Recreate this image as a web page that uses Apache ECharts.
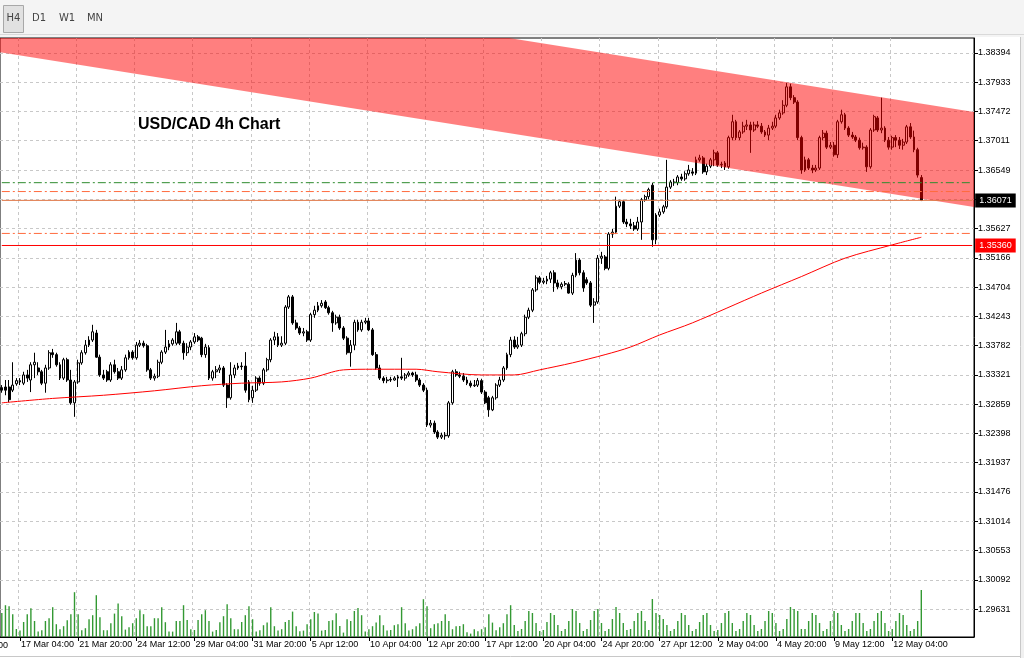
<!DOCTYPE html>
<html><head><meta charset="utf-8">
<script src="https://cdn.jsdelivr.net/npm/echarts@6/dist/echarts.min.js"></script>
<style>html,body{margin:0;padding:0;background:#fff}#c{width:1024px;height:658px}</style>
</head><body><div id="c"></div>
<script>
// ---------- DATA ----------
const tickLabels = ['17 Mar 04:00','21 Mar 20:00','24 Mar 12:00','29 Mar 04:00','31 Mar 20:00','5 Apr 12:00','10 Apr 04:00','12 Apr 20:00','17 Apr 12:00','20 Apr 04:00','24 Apr 20:00','27 Apr 12:00','2 May 04:00','4 May 20:00','9 May 12:00','12 May 04:00'];
const priceTicks = ['1.29631','1.30092','1.30553','1.31014','1.31476','1.31937','1.32398','1.32859','1.33321','1.33782','1.34243','1.34704','1.35166','1.35627','1.36088','1.36549','1.37011','1.37472','1.37933','1.38394'];

const opens = [1.3312,1.3313,1.3313,1.3308,1.3318,1.3323,1.3319,1.3332,1.3324,1.3348,
1.3343,1.3337,1.3319,1.3343,1.3367,1.3364,1.3348,1.3327,1.3356,1.3324,
1.3288,1.3321,1.3351,1.3367,1.3379,1.3387,1.3398,1.3360,1.3332,1.3337,
1.3324,1.3348,1.3337,1.3327,1.3340,1.3359,1.3368,1.3359,1.3379,1.3382,
1.3378,1.3340,1.3327,1.3330,1.3352,1.3368,1.3376,1.3381,1.3382,1.3400,
1.3382,1.3367,1.3376,1.3384,1.3392,1.3390,1.3364,1.3375,1.3327,1.3337,
1.3340,1.3343,1.3316,1.3296,1.3332,1.3343,1.3346,1.3346,1.3321,1.3296,
1.3308,1.3327,1.3319,1.3340,1.3356,1.3387,1.3392,1.3379,1.3382,1.3439,
1.3455,1.3414,1.3406,1.3398,1.3400,1.3387,1.3427,1.3434,1.3441,1.3447,
1.3438,1.3430,1.3414,1.3423,1.3406,1.3390,1.3367,1.3379,1.3415,1.3403,
1.3415,1.3417,1.3403,1.3364,1.3343,1.3327,1.3323,1.3324,1.3324,1.3327,
1.3329,1.3327,1.3332,1.3335,1.3332,1.3324,1.3316,1.3308,1.3253,1.3256,
1.3242,1.3234,1.3237,1.3236,1.3288,1.3337,1.3332,1.3330,1.3324,1.3319,
1.3315,1.3316,1.3323,1.3305,1.3296,1.3277,1.3296,1.3316,1.3324,1.3343,
1.3364,1.3387,1.3376,1.3379,1.3397,1.3423,1.3434,1.3466,1.3485,1.3478,
1.3480,1.3483,1.3493,1.3477,1.3471,1.3475,1.3475,1.3461,1.3489,1.3513,
1.3493,1.3482,1.3477,1.3442,1.3447,1.3516,1.3518,1.3500,1.3554,1.3557,
1.3598,1.3605,1.3573,1.3570,1.3567,1.3562,1.3573,1.3608,1.3613,1.3631,
1.3545,1.3584,1.3589,1.3597,1.3628,1.3636,1.3635,1.3644,1.3641,1.3649,
1.3652,1.3650,1.3671,1.3674,1.3652,1.3661,1.3671,1.3682,1.3663,1.3666,
1.3660,1.3706,1.3731,1.3706,1.3715,1.3724,1.3726,1.3718,1.3726,1.3724,
1.3715,1.3710,1.3721,1.3724,1.3737,1.3745,1.3757,1.3786,1.3769,1.3762,
1.3706,1.3655,1.3671,1.3658,1.3655,1.3658,1.3706,1.3713,1.3691,1.3694,
1.3679,1.3731,1.3742,1.3721,1.3710,1.3707,1.3702,1.3690,1.3691,1.3660,
1.3718,1.3737,1.3718,1.3721,1.3702,1.3691,1.3706,1.3702,1.3694,1.3699,
1.3723,1.3707,1.3687,1.3643];

const closes = [1.3308,1.3308,1.3293,1.3316,1.3323,1.3321,1.3332,1.3327,1.3348,1.3352,
1.3337,1.3319,1.3343,1.3367,1.3364,1.3348,1.3327,1.3356,1.3324,1.3288,
1.3321,1.3351,1.3367,1.3379,1.3387,1.3400,1.3360,1.3332,1.3327,1.3324,
1.3348,1.3337,1.3327,1.3340,1.3359,1.3368,1.3359,1.3379,1.3382,1.3378,
1.3340,1.3327,1.3330,1.3352,1.3368,1.3376,1.3381,1.3387,1.3400,1.3382,
1.3367,1.3376,1.3384,1.3392,1.3387,1.3364,1.3376,1.3327,1.3337,1.3340,
1.3343,1.3316,1.3296,1.3332,1.3343,1.3346,1.3345,1.3308,1.3293,1.3308,
1.3327,1.3319,1.3340,1.3356,1.3387,1.3392,1.3379,1.3382,1.3439,1.3455,
1.3414,1.3406,1.3398,1.3400,1.3387,1.3427,1.3434,1.3441,1.3445,1.3438,
1.3430,1.3414,1.3423,1.3406,1.3390,1.3367,1.3379,1.3415,1.3403,1.3415,
1.3417,1.3403,1.3364,1.3343,1.3327,1.3323,1.3324,1.3325,1.3327,1.3329,
1.3327,1.3332,1.3335,1.3332,1.3324,1.3316,1.3308,1.3253,1.3256,1.3242,
1.3234,1.3237,1.3236,1.3288,1.3337,1.3332,1.3330,1.3324,1.3319,1.3315,
1.3316,1.3323,1.3305,1.3288,1.3277,1.3296,1.3316,1.3324,1.3343,1.3364,
1.3387,1.3376,1.3379,1.3397,1.3423,1.3434,1.3466,1.3485,1.3478,1.3480,
1.3483,1.3493,1.3477,1.3471,1.3475,1.3476,1.3461,1.3489,1.3513,1.3493,
1.3469,1.3477,1.3442,1.3447,1.3516,1.3519,1.3500,1.3554,1.3557,1.3598,
1.3605,1.3573,1.3570,1.3567,1.3562,1.3573,1.3608,1.3613,1.3624,1.3545,
1.3584,1.3589,1.3597,1.3628,1.3636,1.3635,1.3644,1.3641,1.3649,1.3655,
1.3650,1.3671,1.3674,1.3652,1.3661,1.3671,1.3682,1.3663,1.3664,1.3660,
1.3706,1.3731,1.3706,1.3715,1.3724,1.3726,1.3718,1.3726,1.3724,1.3715,
1.3710,1.3721,1.3724,1.3737,1.3745,1.3757,1.3786,1.3769,1.3762,1.3706,
1.3655,1.3671,1.3658,1.3655,1.3658,1.3706,1.3713,1.3691,1.3694,1.3679,
1.3731,1.3742,1.3721,1.3710,1.3707,1.3702,1.3690,1.3691,1.3660,1.3718,
1.3739,1.3718,1.3721,1.3702,1.3691,1.3706,1.3702,1.3694,1.3699,1.3723,
1.3707,1.3687,1.3647,1.36071];

const highs = [1.3316,1.3324,1.3324,1.3352,1.3327,1.3327,1.3337,1.3340,1.3352,1.3367,
1.3352,1.3340,1.3348,1.3371,1.3373,1.3367,1.3352,1.3359,1.3359,1.3340,
1.3324,1.3356,1.3371,1.3387,1.3393,1.3411,1.3403,1.3364,1.3340,1.3340,
1.3352,1.3356,1.3343,1.3346,1.3364,1.3371,1.3371,1.3384,1.3387,1.3386,
1.3381,1.3343,1.3334,1.3356,1.3371,1.3403,1.3387,1.3390,1.3414,1.3403,
1.3386,1.3382,1.3387,1.3398,1.3395,1.3392,1.3381,1.3379,1.3340,1.3346,
1.3348,1.3346,1.3319,1.3352,1.3348,1.3351,1.3352,1.3368,1.3324,1.3315,
1.3330,1.3330,1.3343,1.3359,1.3390,1.3400,1.3398,1.3393,1.3442,1.3458,
1.3458,1.3419,1.3409,1.3406,1.3403,1.3430,1.3441,1.3447,1.3450,1.3450,
1.3441,1.3433,1.3427,1.3427,1.3409,1.3393,1.3387,1.3419,1.3419,1.3419,
1.3422,1.3422,1.3406,1.3368,1.3348,1.3330,1.3329,1.3329,1.3330,1.3332,
1.3359,1.3335,1.3338,1.3337,1.3337,1.3327,1.3319,1.3312,1.3261,1.3260,
1.3245,1.3241,1.3242,1.3291,1.3340,1.3341,1.3337,1.3335,1.3329,1.3323,
1.3324,1.3327,1.3326,1.3308,1.3299,1.3299,1.3319,1.3329,1.3346,1.3367,
1.3392,1.3393,1.3392,1.3400,1.3427,1.3438,1.3469,1.3489,1.3488,1.3485,
1.3488,1.3496,1.3497,1.3482,1.3478,1.3480,1.3478,1.3493,1.3524,1.3516,
1.3497,1.3486,1.3480,1.3453,1.3521,1.3526,1.3521,1.3557,1.3562,1.3613,
1.3608,1.3608,1.3578,1.3578,1.3573,1.3581,1.3611,1.3616,1.3627,1.3635,
1.3587,1.3594,1.3600,1.3671,1.3639,1.3641,1.3647,1.3649,1.3653,1.3663,
1.3658,1.3676,1.3679,1.3677,1.3665,1.3674,1.3687,1.3685,1.3668,1.3669,
1.3709,1.3742,1.3734,1.3718,1.3731,1.3734,1.3731,1.3731,1.3732,1.3729,
1.3718,1.3726,1.3731,1.3742,1.3750,1.3765,1.3792,1.3791,1.3773,1.3765,
1.3709,1.3676,1.3674,1.3663,1.3663,1.3709,1.3718,1.3717,1.3699,1.3699,
1.3734,1.3750,1.3745,1.3724,1.3715,1.3710,1.3706,1.3698,1.3694,1.3721,
1.3742,1.3740,1.3769,1.3724,1.3707,1.3709,1.3710,1.3707,1.3704,1.3726,
1.3729,1.3717,1.3690,1.3647];

const lows = [1.3304,1.3300,1.3289,1.3305,1.3315,1.3316,1.3316,1.3321,1.3305,1.3327,
1.3332,1.3316,1.3304,1.3340,1.3359,1.3345,1.3324,1.3324,1.3321,1.3285,
1.3266,1.3318,1.3348,1.3364,1.3376,1.3384,1.3359,1.3329,1.3324,1.3321,
1.3321,1.3334,1.3324,1.3324,1.3337,1.3356,1.3356,1.3356,1.3376,1.3375,
1.3337,1.3324,1.3323,1.3327,1.3349,1.3365,1.3371,1.3378,1.3379,1.3379,
1.3356,1.3362,1.3371,1.3381,1.3384,1.3360,1.3359,1.3324,1.3323,1.3327,
1.3335,1.3313,1.3280,1.3293,1.3327,1.3340,1.3340,1.3304,1.3289,1.3288,
1.3305,1.3315,1.3316,1.3337,1.3352,1.3379,1.3376,1.3376,1.3379,1.3436,
1.3411,1.3403,1.3395,1.3393,1.3384,1.3384,1.3422,1.3431,1.3438,1.3436,
1.3427,1.3400,1.3411,1.3403,1.3387,1.3364,1.3345,1.3371,1.3400,1.3400,
1.3412,1.3401,1.3362,1.3340,1.3324,1.3319,1.3319,1.3321,1.3323,1.3313,
1.3324,1.3323,1.3329,1.3329,1.3321,1.3313,1.3305,1.3250,1.3249,1.3239,
1.3231,1.3231,1.3230,1.3233,1.3285,1.3329,1.3327,1.3321,1.3316,1.3312,
1.3313,1.3313,1.3302,1.3286,1.3266,1.3275,1.3293,1.3313,1.3321,1.3340,
1.3360,1.3373,1.3373,1.3376,1.3393,1.3420,1.3431,1.3463,1.3475,1.3475,
1.3475,1.3477,1.3463,1.3467,1.3467,1.3472,1.3460,1.3458,1.3486,1.3489,
1.3463,1.3474,1.3439,1.3414,1.3444,1.3507,1.3497,1.3497,1.3548,1.3554,
1.3595,1.3570,1.3565,1.3562,1.3559,1.3559,1.3545,1.3605,1.3609,1.3534,
1.3538,1.3581,1.3586,1.3594,1.3625,1.3630,1.3631,1.3638,1.3638,1.3646,
1.3646,1.3647,1.3668,1.3649,1.3647,1.3658,1.3661,1.3660,1.3658,1.3655,
1.3657,1.3702,1.3702,1.3702,1.3712,1.3718,1.3682,1.3715,1.3721,1.3712,
1.3707,1.3702,1.3718,1.3721,1.3734,1.3742,1.3754,1.3765,1.3759,1.3702,
1.3649,1.3652,1.3655,1.3650,1.3652,1.3655,1.3702,1.3688,1.3688,1.3676,
1.3674,1.3728,1.3718,1.3707,1.3704,1.3699,1.3687,1.3687,1.3652,1.3657,
1.3715,1.3715,1.3713,1.3699,1.3687,1.3687,1.3691,1.3688,1.3687,1.3696,
1.3704,1.3683,1.3643,1.3606];

// tick volume, thousands
const volumes = [12.0,15.9,15.4,11.4,4.0,3.2,7.5,11.4,14.4,8.0,2.7,
3.4,8.0,9.4,14.9,6.4,3.9,5.4,8.4,11.4,22.4,
11.4,3.4,4.4,8.9,10.9,20.9,9.9,3.4,3.4,6.9,
11.7,16.7,10.4,3.7,4.9,6.9,9.4,13.4,11.4,5.4,
5.4,9.4,9.4,14.9,7.4,2.7,2.7,8.0,8.0,15.9,
8.5,3.9,3.5,8.5,11.4,13.4,8.0,2.7,3.5,7.4,
10.4,16.4,9.4,3.9,3.9,7.5,10.9,15.4,8.9,2.7,
3.4,5.9,7.2,14.9,5.4,3.2,3.9,7.5,8.5,12.7,
5.4,2.9,3.2,6.4,8.9,12.5,11.7,3.2,3.5,8.0,
8.4,11.9,5.5,2.2,8.9,8.0,13.0,14.5,10.9,2.7,
3.9,5.4,7.2,10.9,5.9,3.2,3.5,5.9,6.4,14.9,
6.9,3.2,3.9,5.4,6.9,18.9,15.4,4.4,6.4,6.9,
8.0,11.4,8.0,3.9,5.4,5.5,6.4,2.4,1.7,3.9,
2.9,3.9,4.9,11.4,7.2,3.4,4.9,6.9,11.4,15.9,
6.0,3.0,4.0,8.0,13.0,12.0, 7.0,3.0,3.5,7.5,12.0,11.0,
6.0,3.0,4.0,8.0,14.0,13.0, 7.0,3.0,4.0,8.5,13.0,14.0,
7.0,3.0,4.0,9.0,15.0,12.0, 7.0,3.5,4.0,8.0,12.0,13.0,
8.0,3.5,19.0,12.0,11.0,9.0, 6.0,3.0,4.0,8.0,12.0,11.0,
6.0,3.0,4.0,7.5,11.0,12.0, 6.0,3.0,3.5,7.0,12.0,13.0,
7.0,3.0,4.0,8.0,12.0,11.0, 6.0,3.0,4.0,8.0,13.0,12.0,
7.0,3.0,4.0,9.0,15.0,14.0, 13.0,4.0,4.0,8.0,12.0,11.0,
7.0,3.0,4.0,8.0,13.0,12.0, 6.0,3.0,4.0,8.0,12.0,12.0,
7.0,3.0,4.0,8.0,12.0,13.0, 7.0,3.0,4.0,8.0,12.0,11.0,
6.0,3.0,4.0,8.0,23.5];

// moving average (sampled points: bar index -> value)
const maIndex = [0,14,28,42,55,66,77,85,94,102,114,120,132,141,148,157,166,173,181,190,209,220,232,245,253];
const maValue = [1.3288,1.3295,1.3300,1.3307,1.3315,1.3319,1.3321,1.3327,1.3340,1.3341,1.3341,1.3337,1.3332,1.3332,1.3340,1.3351,1.3364,1.3376,1.3395,1.3414,1.3461,1.3487,1.3516,1.3537,1.3549];

// red channel (bar index, upper, lower)
const bandIndex = [0, 267];
const bandTop = [1.3990, 1.3747];
const bandBottom = [1.3840, 1.3597];

// horizontal levels
const levelValues = [1.3635, 1.3621, 1.36071, 1.3555, 1.35360];
const levelColors = ['#2e8b2e', '#ff6a3d', '#e07848', '#ff6a3d', '#ff0000'];
const levelDash = [true, true, false, true, false];
const levelTag = [null, null, '#000000', null, '#ff0000'];
const levelSpan = [0, 267];

// ---------- BUILD ----------
const months = ['Jan','Feb','Mar','Apr','May','Jun','Jul','Aug','Sep','Oct','Nov','Dec'];
const categories = [];
(function(){
  let t = Date.UTC(2023,2,16,8);
  while (categories.length < 268) {
    const d = new Date(t);
    const wd = d.getUTCDay();
    if (wd !== 0 && wd !== 6) {
      const h = d.getUTCHours();
      categories.push(d.getUTCDate() + ' ' + months[d.getUTCMonth()] + ' ' + (h < 10 ? '0' + h : h) + ':00');
    }
    t += 4 * 3600 * 1000;
  }
})();
const showTick = (idx, val) => tickLabels.indexOf(categories[idx]) !== -1;
const priceTickValues = priceTicks.map(Number);
const candleData = opens.map((o, i) => [o, closes[i], lows[i], highs[i]]);
const maData = maIndex.map((i, k) => [i, maValue[k]]);

function clipPoly(pts, r) {
  const L = r.x, R = r.x + r.width, T = r.y, B = r.y + r.height;
  const planes = [
    [p => p[0] >= L, (a, b) => { const t = (L - a[0]) / (b[0] - a[0]); return [L, a[1] + t * (b[1] - a[1])]; }],
    [p => p[0] <= R, (a, b) => { const t = (R - a[0]) / (b[0] - a[0]); return [R, a[1] + t * (b[1] - a[1])]; }],
    [p => p[1] >= T, (a, b) => { const t = (T - a[1]) / (b[1] - a[1]); return [a[0] + t * (b[0] - a[0]), T]; }],
    [p => p[1] <= B, (a, b) => { const t = (B - a[1]) / (b[1] - a[1]); return [a[0] + t * (b[0] - a[0]), B]; }]
  ];
  let out = pts;
  for (const [inside, inter] of planes) {
    const inp = out; out = [];
    for (let i = 0; i < inp.length; i++) {
      const cur = inp[i], prev = inp[(i + inp.length - 1) % inp.length];
      if (inside(cur)) { if (!inside(prev)) out.push(inter(prev, cur)); out.push(cur); }
      else if (inside(prev)) out.push(inter(prev, cur));
    }
  }
  return out;
}

const FONT = 'Liberation Sans';
const chart = echarts.init(document.getElementById('c'), null, {renderer: 'canvas'});

const levelSeries = levelValues.map((v, k) => ({
  type: 'line', name: 'level' + k, z: 12, silent: true, showSymbol: false, symbol: 'none',
  data: [[levelSpan[0], v], [levelSpan[1], v]],
  lineStyle: {color: levelColors[k], type: levelDash[k] ? [8, 3, 2, 3] : 'solid', width: 1},
  itemStyle: {color: levelColors[k]},
  endLabel: levelTag[k] ? {show: true, distance: 3, formatter: p => Number(p.value[1]).toFixed(5),
    backgroundColor: levelTag[k], color: '#fff', padding: [3, 4, 2, 4], fontSize: 9, fontFamily: FONT} : {show: false}
}));

chart.setOption({
  animation: false,
  backgroundColor: '#ffffff',
  textStyle: {fontFamily: FONT},
  grid: {left: -3, top: 38, right: 50, bottom: 21, show: true, borderColor: '#000', borderWidth: 1, backgroundColor: 'transparent'},
  xAxis: [{
    type: 'category', data: categories, boundaryGap: true,
    axisLine: {show: true, lineStyle: {color: '#000', width: 1}},
    axisTick: {show: true, alignWithLabel: true, interval: showTick, length: 4, lineStyle: {color: '#000'}},
    axisLabel: {show: true, interval: showTick, align: 'left', margin: 3, padding: [0, 0, 0, 1], fontSize: 9, color: '#000', fontFamily: FONT},
    splitLine: {show: true, interval: showTick, lineStyle: {color: '#c8c8c8', type: [3, 3], width: 1}}
  }],
  yAxis: [{
    type: 'value', position: 'right', min: 1.29190, max: 1.38630,
    axisLine: {show: true, onZero: false, lineStyle: {color: '#000', width: 1}},
    axisTick: {show: true, length: 4, customValues: priceTickValues, lineStyle: {color: '#000'}},
    axisLabel: {show: true, customValues: priceTickValues, formatter: v => v.toFixed(5), margin: 4, fontSize: 9, color: '#000', fontFamily: FONT},
    splitLine: {show: true, lineStyle: {color: '#c8c8c8', type: [3, 3], width: 1}}
  }, {
    type: 'value', min: 0, max: 299.5, show: false, splitLine: {show: false}
  }],
  series: [{
    type: 'bar', name: 'Volumes', yAxisIndex: 1, data: volumes, barWidth: 1.4, z: 1,
    itemStyle: {color: '#339933'}, silent: true
  }, {
    type: 'candlestick', name: 'USDCAD,H4', data: candleData, barWidth: 2.4, z: 2,
    itemStyle: {color: '#ffffff', color0: '#000000', borderColor: '#000000', borderColor0: '#000000', borderWidth: 1}
  }, {
    type: 'custom', name: 'channel', z: 10, silent: true, clip: true,
    encode: {x: [0, 3], y: [1, 2, 4, 5]},
    data: [[bandIndex[0], bandTop[0], bandBottom[0], bandIndex[1], bandTop[1], bandBottom[1]]],
    renderItem: function (params, api) {
      const a0 = api.coord([api.value(0), api.value(1)]);
      const a1 = api.coord([api.value(3), api.value(4)]);
      const b0 = api.coord([api.value(0), api.value(2)]);
      const b1 = api.coord([api.value(3), api.value(5)]);
      const cs = params.coordSys;
      const xl = cs.x, xr = cs.x + cs.width;
      const ext = (p, q, x) => p[1] + (q[1] - p[1]) * (x - p[0]) / (q[0] - p[0]);
      const pts = [[xl, ext(a0, a1, xl)], [xr, ext(a0, a1, xr)], [xr, ext(b0, b1, xr)], [xl, ext(b0, b1, xl)]];
      return {type: 'polygon', z2: 10, shape: {points: clipPoly(pts, cs)}, style: {fill: 'rgba(255,0,0,0.5)'}};
    }
  }, {
    type: 'line', name: 'MA', data: maData, showSymbol: false, smooth: 0.3, z: 4,
    lineStyle: {color: '#ff0000', width: 1}, silent: true
  }].concat(levelSeries),
  graphic: [
    {type: 'rect', z: 100, shape: {x: 0, y: 0, width: 1024, height: 37}, style: {fill: '#f4f4f4'}},
    {type: 'line', z: 101, shape: {x1: 0, y1: 34.5, x2: 1024, y2: 34.5}, style: {stroke: '#d9d9d9', lineWidth: 1}},
    {type: 'rect', z: 101, shape: {x: 3.5, y: 5.5, width: 20, height: 27}, style: {fill: '#e1e1e1', stroke: '#a8a8a8', lineWidth: 1}},
    {type: 'text', z: 102, x: 13.5, y: 18, style: {text: 'H4', fill: '#444', font: '10px "DejaVu Sans"', align: 'center', verticalAlign: 'middle'}},
    {type: 'text', z: 102, x: 39, y: 18, style: {text: 'D1', fill: '#444', font: '10px "DejaVu Sans"', align: 'center', verticalAlign: 'middle'}},
    {type: 'text', z: 102, x: 67, y: 18, style: {text: 'W1', fill: '#444', font: '10px "DejaVu Sans"', align: 'center', verticalAlign: 'middle'}},
    {type: 'text', z: 102, x: 95, y: 18, style: {text: 'MN', fill: '#444', font: '10px "DejaVu Sans"', align: 'center', verticalAlign: 'middle'}},
    {type: 'text', z: 50, x: 138, y: 125, style: {text: 'USD/CAD 4h Chart', fill: '#000', font: 'bold 16px "Liberation Sans"', verticalAlign: 'middle'}},
    {type: 'text', z: 50, x: -45, y: 641, style: {text: '14 Mar 12:00', fill: '#000', font: '9px "Liberation Sans"', verticalAlign: 'top'}},
    {type: 'line', z: 60, shape: {x1: 1020.5, y1: 35, x2: 1020.5, y2: 658}, style: {stroke: '#c8c8c8', lineWidth: 1}},
    {type: 'rect', z: 60, shape: {x: 1021, y: 35, width: 3, height: 623}, style: {fill: '#f0f0f0'}},
    {type: 'line', z: 60, shape: {x1: 0, y1: 656.5, x2: 1021, y2: 656.5}, style: {stroke: '#c8c8c8', lineWidth: 1}}
  ]
});
</script>
</body></html>
